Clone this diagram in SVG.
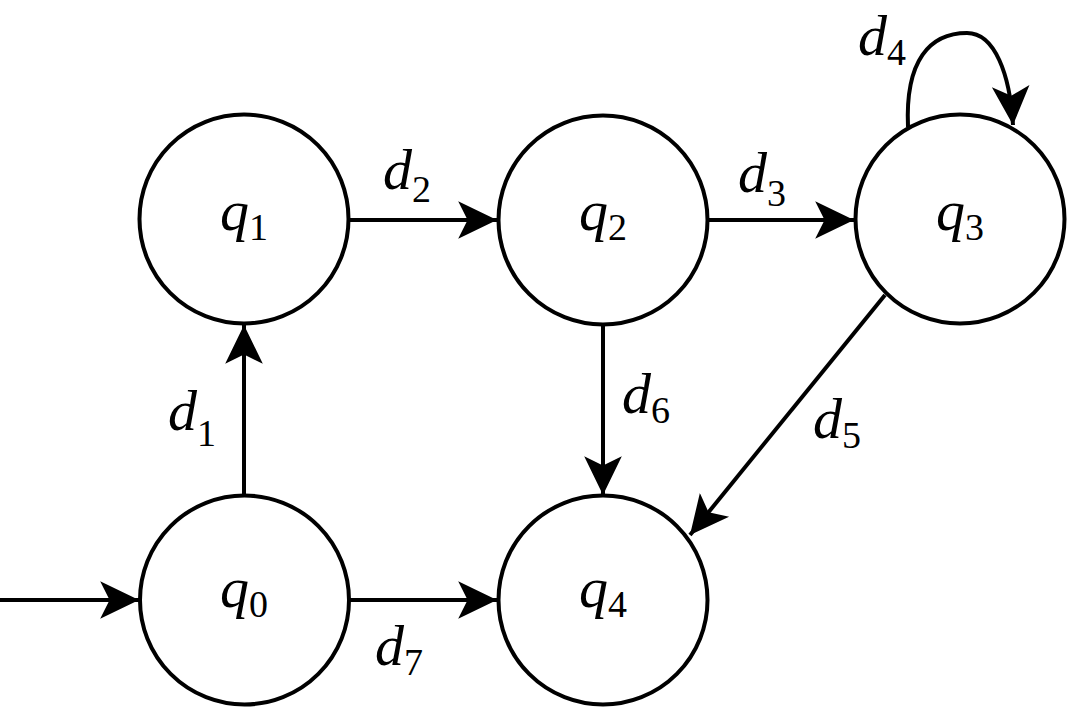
<svg xmlns="http://www.w3.org/2000/svg" width="1068" height="708" viewBox="0 0 1068 708">
<style>
.node{fill:#fff;stroke:#000;stroke-width:4}
.edge{fill:none;stroke:#000;stroke-width:4}
.lbl{font-family:'Liberation Serif','Times New Roman','DejaVu Serif',serif;font-style:italic;font-size:58px;fill:#000}
.sub{font-style:normal;font-size:38px}
</style>
<defs>
<marker id="arr" markerUnits="userSpaceOnUse" markerWidth="40" markerHeight="40" viewBox="0 0 34 34" refX="33" refY="17" orient="auto">
<path d="M33 17 L0 1 L8 17 L0 33 Z" fill="#000"/>
</marker>
</defs>
<rect width="1068" height="708" fill="#fff"/>
<g id="connectors">
<line class="edge" x1="0" y1="600" x2="139" y2="600" marker-end="url(#arr)"/>
<line class="edge" x1="244" y1="495" x2="244" y2="325" marker-end="url(#arr)"/>
<line class="edge" x1="349" y1="220" x2="497" y2="220" marker-end="url(#arr)"/>
<line class="edge" x1="708" y1="220" x2="854" y2="220" marker-end="url(#arr)"/>
<path class="edge" d="M908 127 C905 60 930 33 967 33 C995 33 1010 75 1013 125" marker-end="url(#arr)"/>
<line class="edge" x1="885" y1="295" x2="690" y2="535" marker-end="url(#arr)"/>
<line class="edge" x1="603" y1="325" x2="603" y2="495" marker-end="url(#arr)"/>
<line class="edge" x1="349" y1="600" x2="497" y2="600" marker-end="url(#arr)"/>
<text class="lbl" x="168" y="430">d<tspan class="sub" dy="16">1</tspan></text>
<text class="lbl" x="383" y="189">d<tspan class="sub" dy="13">2</tspan></text>
<text class="lbl" x="738" y="192">d<tspan class="sub" dy="14">3</tspan></text>
<text class="lbl" x="858" y="55">d<tspan class="sub" dy="10">4</tspan></text>
<text class="lbl" x="813" y="438">d<tspan class="sub" dy="10">5</tspan></text>
<text class="lbl" x="622" y="413">d<tspan class="sub" dy="10">6</tspan></text>
<text class="lbl" x="375" y="665">d<tspan class="sub" dy="10">7</tspan></text>
</g>
<g id="q0"><circle class="node" cx="244.5" cy="600" r="104.5"/><text class="lbl" x="244" y="607" text-anchor="middle">q<tspan class="sub" dy="10">0</tspan></text></g>
<g id="q1"><circle class="node" cx="244" cy="219" r="104.5"/><text class="lbl" x="244" y="230" text-anchor="middle">q<tspan class="sub" dy="10">1</tspan></text></g>
<g id="q2"><circle class="node" cx="603" cy="220" r="104.5"/><text class="lbl" x="603" y="230" text-anchor="middle">q<tspan class="sub" dy="10">2</tspan></text></g>
<g id="q3"><circle class="node" cx="960" cy="219" r="104.5"/><text class="lbl" x="960" y="230" text-anchor="middle">q<tspan class="sub" dy="10">3</tspan></text></g>
<g id="q4"><circle class="node" cx="603" cy="600" r="104.5"/><text class="lbl" x="603" y="607" text-anchor="middle">q<tspan class="sub" dy="10">4</tspan></text></g>
</svg>
